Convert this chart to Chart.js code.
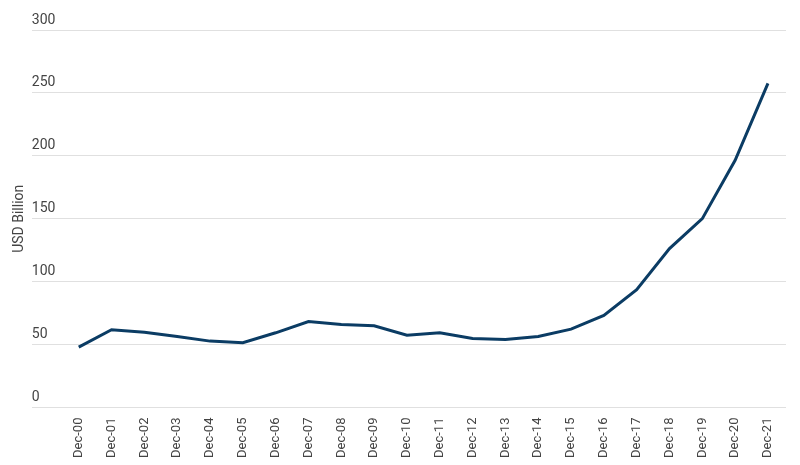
<!DOCTYPE html>
<html>
<head>
<meta charset="utf-8">
<script src="https://cdn.jsdelivr.net/npm/chart.js@4/dist/chart.umd.min.js"></script>
<style>
  html, body { margin: 0; padding: 0; background: #fff; }
  #wrap { width: 800px; height: 465px; }
</style>
</head>
<body>
<div id="wrap"><canvas id="chart"></canvas></div>
<script>
// Data
const categories = ['Dec-00', 'Dec-01', 'Dec-02', 'Dec-03', 'Dec-04', 'Dec-05', 'Dec-06',
    'Dec-07', 'Dec-08', 'Dec-09', 'Dec-10', 'Dec-11', 'Dec-12', 'Dec-13', 'Dec-14',
    'Dec-15', 'Dec-16', 'Dec-17', 'Dec-18', 'Dec-19', 'Dec-20', 'Dec-21'];
const values = [48, 61.8, 59.9, 56.5, 52.8, 51.5, 59.4, 68.4, 66, 65, 57.5, 59.4,
    54.9, 54.1, 56.5, 62.3, 73.2, 93.6, 126.3, 150.1, 196.5, 257.6];
const yTicks = [0, 50, 100, 150, 200, 250, 300];

const points = values.map((v, i) => ({ x: i, y: v }));

const ctx = document.getElementById('chart').getContext('2d');
new Chart(ctx, {
    type: 'line',
    data: {
        datasets: [{
            data: points,
            borderColor: '#0b3c64',
            borderWidth: 3,
            pointRadius: 0,
            fill: false,
            tension: 0
        }]
    },
    options: {
        responsive: true,
        maintainAspectRatio: false,
        animation: false,
        layout: { padding: { left: 11, right: 14, top: 30, bottom: 5 } },
        plugins: {
            legend: { display: false },
            tooltip: { enabled: false }
        },
        scales: {
            x: {
                type: 'linear',
                min: -1.43,
                max: 21.55,
                grid: { display: false },
                border: { display: false },
                ticks: {
                    stepSize: 1,
                    includeBounds: false,
                    autoSkip: false,
                    minRotation: 90,
                    maxRotation: 90,
                    padding: 2,
                    color: '#444',
                    font: { family: 'Roboto', size: 13 },
                    callback: v => categories[v] || ''
                }
            },
            y: {
                min: 0,
                max: 300,
                afterBuildTicks: axis => { axis.ticks = yTicks.map(v => ({ value: v })); },
                grid: { color: '#e0e0e0', lineWidth: 1, drawTicks: false },
                border: { display: false },
                title: {
                    display: true,
                    text: 'USD Billion',
                    color: '#444',
                    font: { family: 'Roboto', size: 14 },
                    padding: { top: 0, bottom: 4 }
                },
                ticks: {
                    mirror: true,
                    padding: 0,
                    labelOffset: -10,
                    color: '#444',
                    font: { family: 'Roboto', size: 14 }
                }
            }
        }
    }
});
</script>
</body>
</html>
